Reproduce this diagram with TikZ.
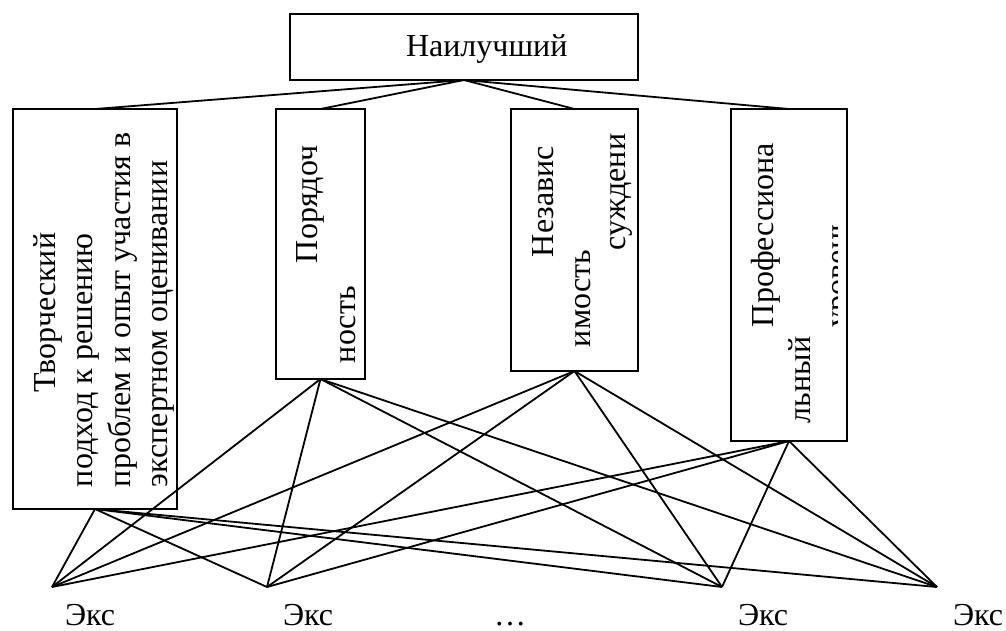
\documentclass[tikz,border=0pt]{standalone}
\usepackage{fontspec}
\setmainfont{Liberation Serif}
\begin{document}
\begin{tikzpicture}[x=1pt,y=-1pt,
  box/.style={draw, line width=2.1pt, inner sep=0pt, outer sep=0pt, anchor=north west},
  link/.style={line width=1.8pt},
  txt/.style={font=\fontsize{32}{38}\selectfont, inner sep=0pt, outer sep=0pt},
  vtxt/.style={txt, rotate=90, anchor=base west}]
\useasboundingbox (0,0) rectangle (1006,630);

% boxes
\node[box, minimum width=348pt, minimum height=66pt] (top) at (290,14) {};
\node[box, minimum width=164pt, minimum height=400pt] (b1) at (13,109) {};
\node[box, minimum width=89pt, minimum height=270pt] (b2) at (276,109) {};
\node[box, minimum width=127pt, minimum height=262pt] (b3) at (511,109) {};
\node[box, minimum width=116pt, minimum height=332pt] (b4) at (731,109) {};

% texts
\node[txt, anchor=base west] (ttop) at (406,56) {Наилучший};

\node[vtxt] (b1a) at (55,392) {Творческий};
\node[vtxt] (b1b) at (92,487) {подход к решению};
\node[vtxt] (b1c) at (130,487) {проблем и опыт участия в};
\node[vtxt] (b1d) at (167,487) {экспертном оценивании};

\node[vtxt] (b2a) at (317,263) {Порядоч};
\node[vtxt] (b2b) at (355,363) {ность};

\node[vtxt] (b3a) at (553,257) {Независ};
\node[vtxt] (b3b) at (590,347) {имость};
\node[vtxt] (b3c) at (625,250) {суждени};

\node[vtxt] (b4a) at (773,327) {Профессиона};
\node[vtxt] (b4b) at (810,423) {льный};
\begin{scope}
\clip (731,109) rectangle (837,441);
\node[vtxt] (b4c) at (847,327) {уровень};
\end{scope}

% experts
\coordinate (e1) at (52,587);
\coordinate (e2) at (267,587);
\coordinate (e3) at (722,587);
\coordinate (e4) at (937,587);
\node[txt, anchor=base west] (l1) at (65,625) {Экс};
\node[txt, anchor=base west] (l2) at (283,625) {Экс};
\node[txt, anchor=base west] (l3) at (738,625) {Экс};
\node[txt, anchor=base west] (l4) at (953,625) {Экс};
\node[txt, anchor=base] (dots) at (510,625) {…};

% connectors
\foreach \b in {b1,b2,b3,b4}{
  \draw[link] (top.south) -- (\b.north);
  \foreach \e in {e1,e2,e3,e4}{
    \draw[link] (\b.south) -- (\e);
  }
}
\end{tikzpicture}
\end{document}
